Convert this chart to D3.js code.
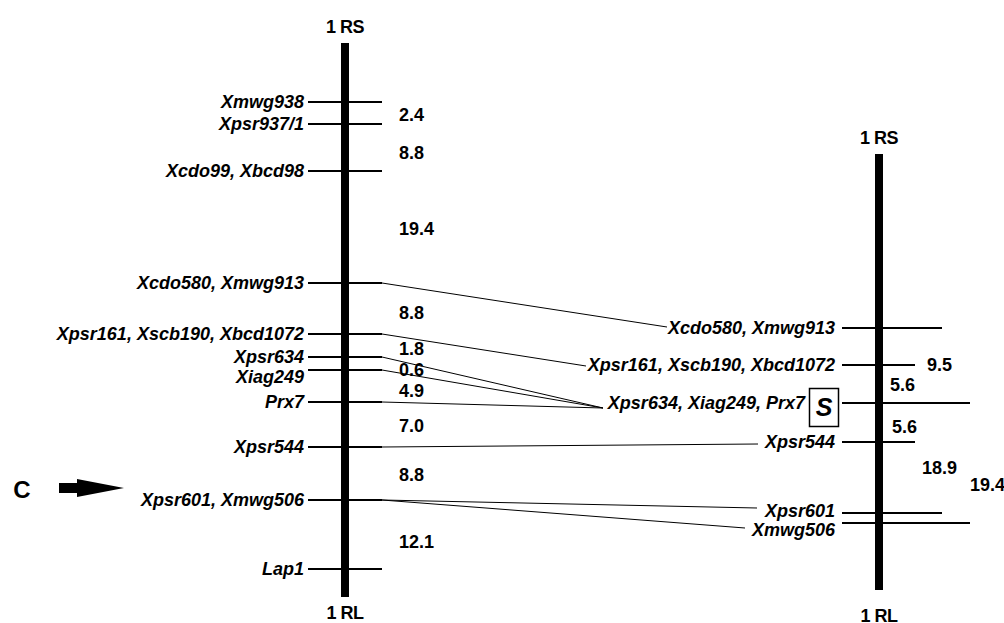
<!DOCTYPE html>
<html><head><meta charset="utf-8">
<script src="https://cdn.jsdelivr.net/npm/d3@7"></script>
<style>
html,body{margin:0;padding:0;background:#fff;}
text{font-family:"Liberation Sans",Arial,sans-serif;font-weight:bold;fill:#000;}
</style></head>
<body>
<svg id="c" width="1004" height="623"></svg>
<script>
// ---- data (positions, in drawing units along each map) ----
const leftMarkers = ["Xmwg938","Xpsr937/1","Xcdo99, Xbcd98","Xcdo580, Xmwg913","Xpsr161, Xscb190, Xbcd1072","Xpsr634","Xiag249","Prx7","Xpsr544","Xpsr601, Xmwg506","Lap1"];
const leftPositions = [102,124,171,283,334,357,370,402,447,500,569];
const leftLabelShift = [0,0,0,0,0,0,7,0,0,0,0];
const leftDistances = ["2.4","8.8","19.4","8.8","1.8","0.6","4.9","7.0","8.8","12.1"];
const leftDistancePos = [115,153,229,313,349,370,391,426,475,542];

const rightMarkers = ["Xcdo580, Xmwg913","Xpsr161, Xscb190, Xbcd1072","Xpsr634, Xiag249, Prx7","Xpsr544","Xpsr601","Xmwg506"];
const rightPositions = [328,365,403,442,513,523];
const rightLabelShift = [0,0,0,0,-2,7];
const rightTickLen = [63,36,91,36,63,91];
const rightDistances = ["9.5","5.6","5.6","18.9","19.4"];
const rightDistancePos = [365,385,427,468,485];
const rightDistanceOffset = [48,11,13,43,91];

// links: left marker index -> right marker index, with label-side end point offset
const linkFrom = [3,4,5,6,7,8,9,9];
const linkTo   = [0,1,2,2,2,3,4,5];
const linkEndX = [667,586,603,603,603,758,757,745];
const linkEndDy= [-1,1,5,5,5,2,-5,5];

const chromTitles = ["1 RS","1 RL"];
const mapExtent = {left:[43,597], right:[154,590]};

// ---- layout ----
const svg = d3.select("#c");
const y = d3.scaleLinear().domain([0,623]).range([0,623]);
const LX = 345, RX = 879;
const FS = "18px";

function chrom(x, ext) {
  svg.append("rect").attr("x", x-4).attr("y", y(ext[0])).attr("width", 8)
     .attr("height", y(ext[1])-y(ext[0])).attr("fill","#000");
}
chrom(LX, mapExtent.left);
chrom(RX, mapExtent.right);

function title(x, yy, t) {
  svg.append("text").attr("x",x).attr("y",y(yy)).attr("dy","0.36em").attr("text-anchor","middle")
     .style("font-size","18px").style("letter-spacing","-0.5px").text(t);
}
title(LX, 27, chromTitles[0]);
title(LX, 613, chromTitles[1]);
title(RX, 138, chromTitles[0]);
title(RX, 616, chromTitles[1]);

// left ticks + labels
const lg = svg.append("g");
lg.selectAll("line").data(leftPositions).join("line")
  .attr("x1", LX-37).attr("x2", LX+37).attr("y1", d=>y(d)).attr("y2", d=>y(d))
  .attr("stroke","#000").attr("stroke-width",2);
lg.selectAll("text").data(leftMarkers).join("text")
  .attr("x", 304).attr("y", (d,i)=>y(leftPositions[i]+leftLabelShift[i])).attr("dy","0.36em")
  .attr("text-anchor","end").style("font-size",FS).style("font-style","italic")
  .text(d=>d);
svg.append("g").selectAll("text").data(leftDistances).join("text")
  .attr("x", 399).attr("y", (d,i)=>y(leftDistancePos[i])).attr("dy","0.36em")
  .style("font-size",FS).text(d=>d);

// right ticks + labels
const rg = svg.append("g");
rg.selectAll("line").data(rightPositions).join("line")
  .attr("x1", RX-37).attr("x2", (d,i)=>RX+rightTickLen[i]).attr("y1", d=>y(d)).attr("y2", d=>y(d))
  .attr("stroke","#000").attr("stroke-width",2);
rg.selectAll("text").data(rightMarkers).join("text")
  .attr("x", (d,i)=> i===2 ? 805 : 835).attr("y", (d,i)=>y(rightPositions[i]+rightLabelShift[i])).attr("dy","0.36em")
  .attr("text-anchor","end").style("font-size",FS).style("font-style","italic")
  .text(d=>d);
svg.append("g").selectAll("text").data(rightDistances).join("text")
  .attr("x", (d,i)=>RX+rightDistanceOffset[i]).attr("y", (d,i)=>y(rightDistancePos[i])).attr("dy","0.36em")
  .style("font-size",FS).text(d=>d);

// S box
svg.append("rect").attr("x",809.5).attr("y",y(388)+0.5).attr("width",29).attr("height",38)
   .attr("fill","none").attr("stroke","#000").attr("stroke-width",1.5);
svg.append("text").attr("x",824).attr("y",y(407)).attr("dy","0.36em").attr("text-anchor","middle")
   .style("font-size","25px").style("font-style","italic").text("S");

// connecting lines
svg.append("g").selectAll("line").data(linkFrom).join("line")
  .attr("x1", LX+37).attr("y1", d=>y(leftPositions[d]))
  .attr("x2", (d,i)=>linkEndX[i]).attr("y2", (d,i)=>y(rightPositions[linkTo[i]]+linkEndDy[i]))
  .attr("stroke","#000").attr("stroke-width",1);

// C arrow
svg.append("text").attr("x",22).attr("y",y(489)).attr("dy","0.36em").attr("text-anchor","middle")
   .style("font-size","24px").text("C");
svg.append("path")
   .attr("d", `M59,${y(483)} L77,${y(483)} L77,${y(479)} L124,${y(488)} L77,${y(497)} L77,${y(493)} L59,${y(493)} Z`)
   .attr("fill","#000");
</script>
</body></html>
